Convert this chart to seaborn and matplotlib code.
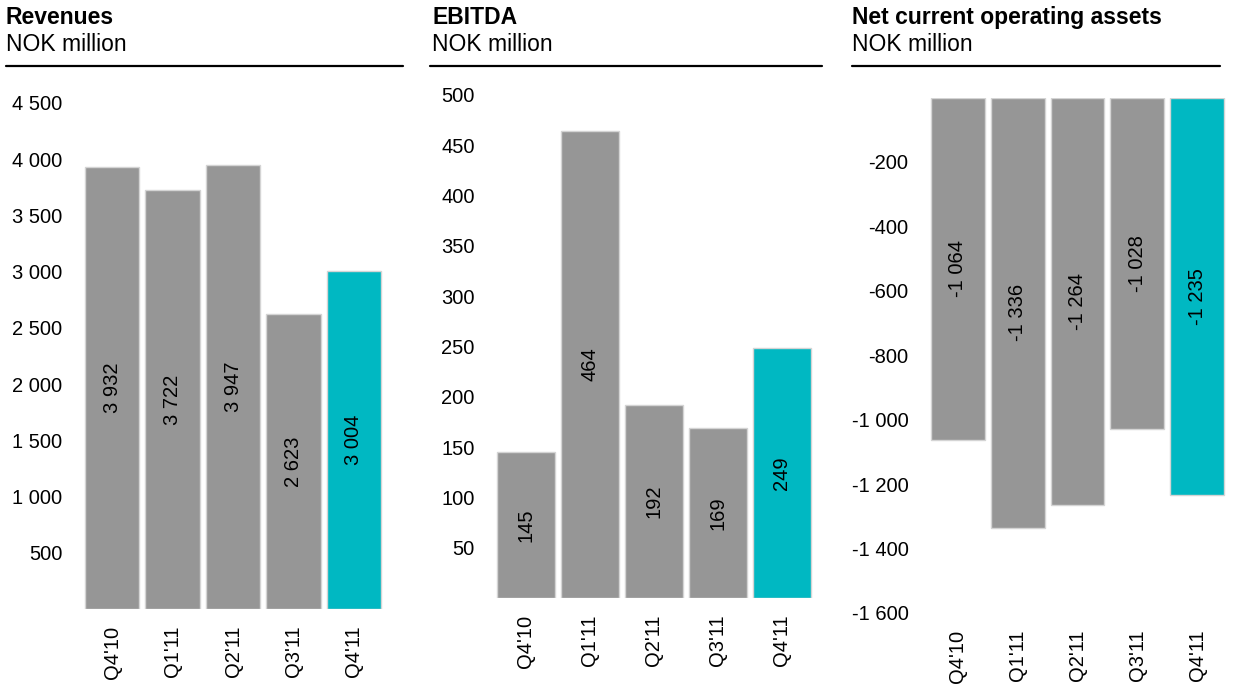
import matplotlib
matplotlib.use("Agg")
import matplotlib.pyplot as plt
import seaborn as sns
from matplotlib.lines import Line2D

quarters = ["Q4'10", "Q1'11", "Q2'11", "Q3'11", "Q4'11"]
revenues = [3932, 3722, 3947, 2623, 3004]
ebitda = [145, 464, 192, 169, 249]
ncoa = [-1064, -1336, -1264, -1028, -1235]

rev_ticks = [500, 1000, 1500, 2000, 2500, 3000, 3500, 4000, 4500]
ebitda_ticks = [50, 100, 150, 200, 250, 300, 350, 400, 450, 500]
ncoa_ticks = [-200, -400, -600, -800, -1000, -1200, -1400, -1600]

titles = ["Revenues", "EBITDA", "Net current operating assets"]
subtitle = "NOK million"

GREY = "#969696"
TEAL = "#00B8C2"
colors = [GREY, GREY, GREY, GREY, TEAL]

sns.set_theme(style="white")
plt.rcParams['font.family'] = ['Liberation Sans', 'DejaVu Sans']
plt.rcParams['text.color'] = 'black'
plt.rcParams['xtick.color'] = 'black'
plt.rcParams['ytick.color'] = 'black'

W, H = 1236, 695
fig = plt.figure(figsize=(W / 100, H / 100), dpi=100)

FS = 14.5


def fmt(v):
    s = f"{abs(int(v)):,}".replace(",", " ")
    return ("-" if v < 0 else "") + s


def px_axes(left, top, right, bottom):
    return fig.add_axes([left / W, 1 - bottom / H, (right - left) / W, (bottom - top) / H])


panels = [
    dict(vals=revenues, ticks=rev_ticks, ylim=(0, 4500), box=(82, 103, 384, 609), title_x=6, line=(6, 403)),
    dict(vals=ebitda, ticks=ebitda_ticks, ylim=(0, 500), box=(494, 95, 814, 598), title_x=432, line=(430, 822)),
    dict(vals=ncoa, ticks=ncoa_ticks, ylim=(-1600, 0), box=(928, 97.5, 1227, 613), title_x=852, line=(852, 1220)),
]

for p, title in zip(panels, titles):
    ax = px_axes(*p["box"])
    sns.barplot(x=quarters, y=p["vals"], hue=quarters, palette=colors, legend=False,
                width=0.9, edgecolor="#d4d4d4", linewidth=1, ax=ax, saturation=1)
    ax.set_xlim(-0.5, 4.5)
    ax.set_ylim(*p["ylim"])
    ax.set_yticks(p["ticks"])
    ax.set_yticklabels([fmt(t) for t in p["ticks"]], fontsize=FS, color="black")
    ax.tick_params(axis="y", length=0, pad=14)
    ax.tick_params(axis="x", length=0, pad=12, labelsize=FS, labelrotation=90, labelcolor="black")
    for s in ax.spines.values():
        s.set_visible(False)
    ax.set_xlabel("")
    ax.set_ylabel("")
    for c in ax.containers:
        ax.bar_label(c, labels=[fmt(v) for v in c.datavalues], label_type="center",
                     rotation=90, fontsize=FS, color="black")
    fig.text(p["title_x"] / W, 1 - 24 / H, title, fontsize=16.5, fontweight="bold",
             ha="left", va="baseline", color="black")
    fig.text(p["title_x"] / W, 1 - 51 / H, subtitle, fontsize=16.5,
             ha="left", va="baseline", color="black")
    x0, x1 = p["line"]
    fig.add_artist(Line2D([x0 / W, x1 / W], [1 - 66 / H, 1 - 66 / H], color="black",
                          linewidth=1.6, transform=fig.transFigure))

fig.savefig("out.png", dpi=100)
